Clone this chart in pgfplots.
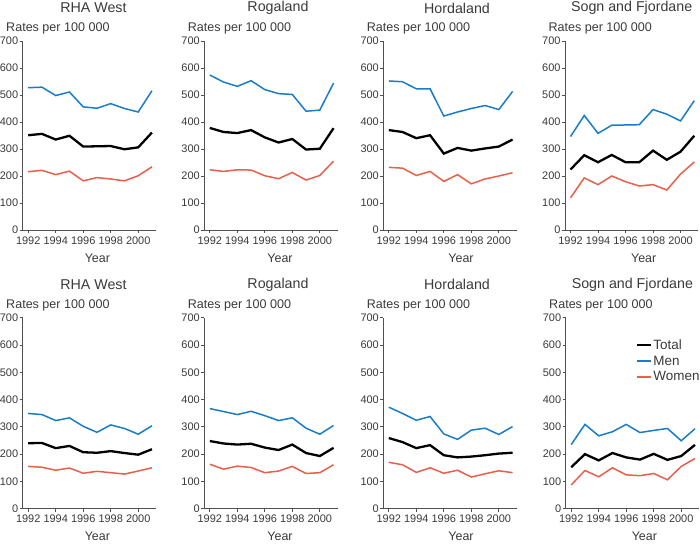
\documentclass[border=0pt]{standalone}
\usepackage{fontspec}
\setmainfont{Liberation Sans}
\usepackage{pgfplots}
\usepackage{pgfplotstable}
\pgfplotsset{compat=1.18}

\definecolor{menblue}{HTML}{1A7CC9}
\definecolor{womenred}{HTML}{E8604C}
\definecolor{txtgray}{HTML}{3A3A3A}
\definecolor{axgray}{HTML}{505050}

% top row
\pgfplotstableread{
year total men women
1992 351 527 216
1993 356 529 221
1994 335 498 205
1995 349 511 218
1996 309 456 182
1997 310 451 194
1998 311 468 189
1999 299 450 182
2000 306 437 201
2001 361 516 234
}\rhaTop
\pgfplotstableread{
year total men women
1992 378 574 223
1993 363 548 217
1994 359 532 223
1995 370 553 222
1996 343 520 201
1997 324 505 190
1998 337 502 213
1999 298 440 185
2000 301 444 202
2001 377 544 255
}\rogTop
\pgfplotstableread{
year total men women
1992 370 552 232
1993 363 549 229
1994 340 523 202
1995 351 523 217
1996 283 422 180
1997 304 437 205
1998 294 450 171
1999 302 461 189
2000 309 446 200
2001 335 513 212
}\horTop
\pgfplotstableread{
year total men women
1992 224 346 119
1993 277 424 193
1994 251 358 168
1995 278 388 200
1996 251 389 179
1997 251 390 163
1998 294 446 168
1999 260 429 148
2000 290 404 207
2001 349 479 252
}\sogTop
% bottom row
\pgfplotstableread{
year total men women
1992 240 349 155
1993 241 345 152
1994 222 323 141
1995 230 333 149
1996 207 302 130
1997 205 280 137
1998 211 307 132
1999 204 294 127
2000 198 273 138
2001 218 304 150
}\rhaBot
\pgfplotstableread{
year total men women
1992 248 367 163
1993 239 356 145
1994 235 345 156
1995 238 357 151
1996 224 341 132
1997 215 323 138
1998 235 333 155
1999 204 295 129
2000 193 273 132
2001 223 305 161
}\rogBot
\pgfplotstableread{
year total men women
1992 259 372 170
1993 244 349 161
1994 222 324 133
1995 233 338 150
1996 196 274 130
1997 188 254 141
1998 191 288 116
1999 196 295 128
2000 202 272 139
2001 205 301 132
}\horBot
\pgfplotstableread{
year total men women
1992 152 235 87
1993 200 309 140
1994 177 267 117
1995 204 282 150
1996 188 309 124
1997 180 279 121
1998 201 287 129
1999 179 294 106
2000 193 249 155
2001 234 293 184
}\sogBot

\pgfplotsset{
  panel/.style={
    scale only axis, width=133.4bp, height=189bp, anchor=south west,
    xmin=1991.6, xmax=2001.3, ymin=0, ymax=700,
    axis lines*=left,
    axis line style={axgray, line width=0.8bp},
    xtick={1992,1994,...,2000}, ytick={0,100,...,700},
    tick align=outside, major tick length=3bp,
    tick style={axgray, line width=0.8bp},
    /pgf/number format/assume math mode=true,
    x tick label style={/pgf/number format/1000 sep={}},
    y tick label style={xshift=2bp},
    ticklabel style={font=\fontsize{11}{12}\selectfont, text=txtgray},
    every axis title/.style={font=\fontsize{14.3}{16}\selectfont, text=txtgray,
      at={(0.5,1)}, anchor=center, yshift=33bp},
    every axis y label/.style={at={(rel axis cs:0,1)}, anchor=west,
      xshift=-20bp, yshift=12.5bp, font=\fontsize{12.6}{14}\selectfont, text=txtgray},
    every axis x label/.style={at={(rel axis cs:0.5,0)}, anchor=center,
      yshift=-28bp, font=\fontsize{12.5}{14}\selectfont, text=txtgray},
    ylabel={Rates per 100 000}, xlabel={Year},
  },
  total/.style={black, line width=2.3bp},
  men/.style={menblue, line width=1.5bp},
  women/.style={womenred, line width=1.5bp},
}

\begin{document}
\begin{tikzpicture}
\path[use as bounding box] (0,0) rectangle (700bp,544bp);

% ---- top row ----
\begin{axis}[panel, at={(22.7bp,314bp)}, title={RHA West},
  title style={xshift=4bp}, xlabel style={xshift=8bp}]
\addplot[total] table[x=year,y=total]{\rhaTop};
\addplot[men] table[x=year,y=men]{\rhaTop};
\addplot[women] table[x=year,y=women]{\rhaTop};
\end{axis}

\begin{axis}[panel, at={(204.3bp,314bp)}, title={Rogaland},
  title style={xshift=7bp}, xlabel style={xshift=9bp}]
\addplot[total] table[x=year,y=total]{\rogTop};
\addplot[men] table[x=year,y=men]{\rogTop};
\addplot[women] table[x=year,y=women]{\rogTop};
\end{axis}

\begin{axis}[panel, at={(383.3bp,314bp)}, title={Hordaland},
  title style={xshift=7bp}, xlabel style={xshift=11bp}]
\addplot[total] table[x=year,y=total]{\horTop};
\addplot[men] table[x=year,y=men]{\horTop};
\addplot[women] table[x=year,y=women]{\horTop};
\end{axis}

\begin{axis}[panel, at={(565bp,314bp)}, title={Sogn and Fjordane},
  xlabel style={xshift=12bp}]
\addplot[total] table[x=year,y=total]{\sogTop};
\addplot[men] table[x=year,y=men]{\sogTop};
\addplot[women] table[x=year,y=women]{\sogTop};
\end{axis}

% ---- bottom row ----
\begin{axis}[panel, height=191bp, at={(22.7bp,35.3bp)}, title={RHA West},
  title style={xshift=4bp}, xlabel style={xshift=8bp}]
\addplot[total] table[x=year,y=total]{\rhaBot};
\addplot[men] table[x=year,y=men]{\rhaBot};
\addplot[women] table[x=year,y=women]{\rhaBot};
\end{axis}

\begin{axis}[panel, height=191bp, at={(204.3bp,35.3bp)}, title={Rogaland},
  title style={xshift=7bp}, xlabel style={xshift=9bp}]
\addplot[total] table[x=year,y=total]{\rogBot};
\addplot[men] table[x=year,y=men]{\rogBot};
\addplot[women] table[x=year,y=women]{\rogBot};
\end{axis}

\begin{axis}[panel, height=191bp, at={(383.3bp,35.3bp)}, title={Hordaland},
  title style={xshift=7bp}, xlabel style={xshift=11bp}]
\addplot[total] table[x=year,y=total]{\horBot};
\addplot[men] table[x=year,y=men]{\horBot};
\addplot[women] table[x=year,y=women]{\horBot};
\end{axis}

\begin{axis}[panel, height=191bp, at={(565.7bp,35.3bp)}, title={Sogn and Fjordane},
  xlabel style={xshift=12bp},
  legend style={draw=none, fill=none, at={(0.5,0.905)}, anchor=north west,
    font=\fontsize{13.5}{15}\selectfont, text=txtgray, row sep=2bp,
    nodes={inner sep=1.5bp}},
  legend cell align=left,
  legend image code/.code={\draw[#1] (0bp,0bp) -- (14bp,0bp);}]
\addplot[total] table[x=year,y=total]{\sogBot};
\addplot[men] table[x=year,y=men]{\sogBot};
\addplot[women] table[x=year,y=women]{\sogBot};
\legend{Total,Men,Women}
\end{axis}
\end{tikzpicture}
\end{document}
